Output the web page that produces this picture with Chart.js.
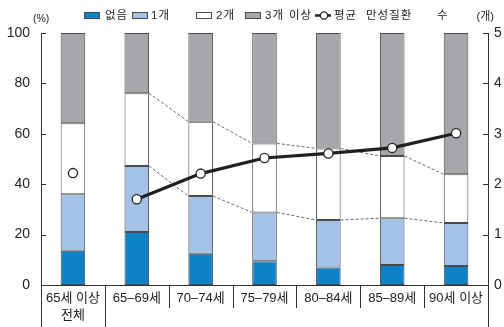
<!DOCTYPE html>
<html>
<head>
<meta charset="utf-8">
<script src="https://cdn.jsdelivr.net/npm/chart.js@4/dist/chart.umd.min.js"></script>
<style>
html,body{margin:0;padding:0;background:#fff;}
#wrap{position:relative;width:504px;height:327px;}
</style>
</head>
<body>
<div id="wrap"><canvas id="c" width="504" height="327"></canvas></div>
<script>
const categories = [["65세 이상","전체"], "65–69세", "70–74세", "75–79세", "80–84세", "85–89세", "90세 이상"];
const seriesNames = ["없음", "1개", "2개", "3개 이상"];
const none = [13.6, 21.0, 12.4, 9.4, 6.9, 7.9, 7.5];
const one = [22.4, 26.2, 22.9, 19.4, 18.9, 18.6, 17.1];
const two = [28.2, 28.9, 29.5, 27.4, 28.4, 24.7, 19.3];
const threePlus = [35.8, 23.9, 35.2, 43.8, 45.8, 48.8, 56.1];
const avgName = "평균 만성질환 수";
const avgCount = [2.22, 1.70, 2.21, 2.52, 2.61, 2.72, 3.01];
const leftTicks = [0, 20, 40, 60, 80, 100];
const rightTicks = [0, 1, 2, 3, 4, 5];

const COLORS = ["#0e82c8", "#a3c2e6", "#ffffff", "#a6a7aa"];
const EDGE = "#4a4a4a";
const AXIS = "#333333";
const FONT = "'Liberation Sans Narrow', 'Liberation Sans', 'Noto Sans CJK KR', sans-serif";
const KFONT = "'Liberation Sans', 'Noto Sans CJK KR', sans-serif";

const barSets = [none, one, two, threePlus].map((arr, i) => ({
  type: 'bar',
  label: seriesNames[i],
  data: arr,
  backgroundColor: COLORS[i],
  borderColor: EDGE,
  borderWidth: 1,
  borderSkipped: false,
  yAxisID: 'y',
  stack: 's',
  order: 2,
  categoryPercentage: 1,
  barPercentage: 0.385
}));

const lineSet = {
  type: 'line',
  label: avgName,
  data: avgCount,
  yAxisID: 'y2',
  borderColor: '#231f20',
  borderWidth: 3.2,
  pointRadius: 4.6,
  pointBorderWidth: 1.3,
  pointBackgroundColor: '#ffffff',
  pointBorderColor: '#231f20',
  tension: 0,
  order: 0,
  segment: {
    borderColor: ctx => ctx.p0DataIndex === 0 ? 'rgba(0,0,0,0)' : '#231f20'
  }
};

// draws words of a label at given x offsets
function drawWords(ctx, text, x0, y, offsets) {
  const words = text.split(' ');
  words.forEach((w, i) => ctx.fillText(w, x0 + offsets[i], y));
}

const decor = {
  id: 'decor',
  beforeDatasetsDraw(chart) {
    const ctx = chart.ctx;
    const y = chart.scales.y;
    const metas = [0,1,2].map(d => chart.getDatasetMeta(d));
    const cum = [[],[],[]];
    for (let i = 0; i < none.length; i++) {
      cum[0][i] = none[i];
      cum[1][i] = none[i] + one[i];
      cum[2][i] = none[i] + one[i] + two[i];
    }
    ctx.save();
    ctx.strokeStyle = '#444';
    ctx.lineWidth = 0.8;
    ctx.setLineDash([3, 2]);
    for (let i = 1; i < none.length - 1; i++) {
      for (let k = 0; k < 3; k++) {
        const a = metas[k].data[i], b = metas[k].data[i + 1];
        ctx.beginPath();
        ctx.moveTo(a.x + a.width / 2, y.getPixelForValue(cum[k][i]));
        ctx.lineTo(b.x - b.width / 2, y.getPixelForValue(cum[k][i + 1]));
        ctx.stroke();
      }
    }
    ctx.restore();
  },
  afterDraw(chart) {
    const ctx = chart.ctx;
    const a = chart.chartArea;
    const y = chart.scales.y, y2 = chart.scales.y2;
    ctx.save();
    ctx.strokeStyle = AXIS;
    ctx.lineWidth = 1;
    ctx.setLineDash([]);
    // inside ticks
    leftTicks.forEach(v => {
      const py = Math.round(y.getPixelForValue(v)) + 0.5;
      ctx.beginPath(); ctx.moveTo(a.left, py); ctx.lineTo(a.left + 5, py); ctx.stroke();
    });
    rightTicks.forEach(v => {
      const py = Math.round(y2.getPixelForValue(v)) + 0.5;
      ctx.beginPath(); ctx.moveTo(a.right - 5, py); ctx.lineTo(a.right, py); ctx.stroke();
    });
    // category dividers below axis
    const n = categories.length;
    for (let i = 0; i <= n; i++) {
      const px = Math.round(a.left + (a.right - a.left) * i / n) + 0.5;
      const long = (i === 0 || i === 1 || i === n);
      ctx.beginPath();
      ctx.moveTo(px, a.bottom);
      ctx.lineTo(px, long ? chart.height : a.bottom + 23);
      ctx.stroke();
    }
    // unit labels
    ctx.fillStyle = '#222';
    ctx.textBaseline = 'middle';
    ctx.font = "10.5px " + FONT;
    ctx.textAlign = 'left';
    ctx.fillText("(%)", 33, 19);
    // legend
    const ly = 15;
    ctx.font = "11.5px " + KFONT;
    ctx.letterSpacing = '1px';
    const boxX = [84, 132, 196, 245];
    const textX = [105, 151, 216, 265];
    const wordOffsets = [[0], [0], [0], [0, 24]];
    for (let i = 0; i < 4; i++) {
      ctx.fillStyle = COLORS[i];
      ctx.fillRect(boxX[i], ly - 3, 16, 7);
      ctx.strokeStyle = EDGE;
      ctx.lineWidth = 1;
      ctx.strokeRect(boxX[i] + 0.5, ly - 2.5, 15, 6);
      ctx.fillStyle = '#222';
      drawWords(ctx, seriesNames[i], textX[i], ly + 1, wordOffsets[i]);
    }
    // line symbol
    ctx.strokeStyle = '#231f20';
    ctx.lineWidth = 2.5;
    ctx.beginPath(); ctx.moveTo(315, ly + 0.5); ctx.lineTo(331, ly + 0.5); ctx.stroke();
    ctx.lineWidth = 1.2;
    ctx.fillStyle = '#fff';
    ctx.beginPath(); ctx.arc(324, ly + 0.5, 3.6, 0, Math.PI * 2); ctx.fill(); ctx.stroke();
    ctx.fillStyle = '#222';
    drawWords(ctx, avgName, 334, ly + 1, [0, 32, 103]);
    ctx.letterSpacing = '0px';
    ctx.font = "11px " + KFONT;
    ctx.textAlign = 'right';
    ctx.fillText("(개)", 494, ly + 2);
    ctx.restore();
  }
};

new Chart(document.getElementById('c'), {
  data: {
    labels: categories,
    datasets: [lineSet, ...barSets]
  },
  options: {
    responsive: false,
    animation: false,
    layout: { padding: { top: 33, left: 0, right: 0, bottom: 0 } },
    plugins: {
      legend: { display: false },
      tooltip: { enabled: false }
    },
    scales: {
      x: {
        stacked: true,
        grid: { display: false, drawTicks: false },
        border: { display: true, color: AXIS, width: 1 },
        ticks: {
          color: '#222',
          font: { family: FONT, size: 13, lineHeight: 1.3 },
          padding: 5,
          maxRotation: 0,
          autoSkip: false
        },
        afterFit(s) { s.height = 42; }
      },
      y: {
        position: 'left',
        stacked: true,
        min: 0, max: 100,
        afterBuildTicks(s) { s.ticks = leftTicks.map(v => ({ value: v })); },
        grid: { display: false, drawTicks: false },
        border: { display: true, color: AXIS, width: 1 },
        ticks: {
          color: '#222',
          font: { family: FONT, size: 14 },
          padding: 11
        },
        afterFit(s) { s.width = 41; }
      },
      y2: {
        position: 'right',
        min: 0, max: 5,
        afterBuildTicks(s) { s.ticks = rightTicks.map(v => ({ value: v })); },
        grid: { display: false, drawTicks: false },
        border: { display: true, color: AXIS, width: 1 },
        ticks: {
          color: '#222',
          font: { family: FONT, size: 14 },
          padding: 6
        },
        afterFit(s) { s.width = 16; }
      }
    }
  },
  plugins: [decor]
});
</script>
</body>
</html>
